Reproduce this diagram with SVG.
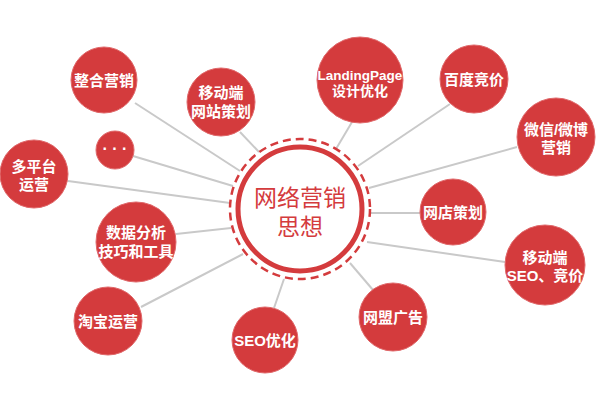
<svg xmlns="http://www.w3.org/2000/svg" width="600" height="400" viewBox="0 0 600 400">
<style>
.n{fill:#d43b3d;stroke:#e0686a;stroke-width:1}
.t{fill:#fff;font-family:"Liberation Sans","Noto Sans CJK SC",sans-serif;font-weight:bold;font-size:15px;text-anchor:middle}
.c line{stroke:#c9c9c9;stroke-width:2}
.ct{fill:#d43b3d;font-family:"Liberation Sans","Noto Sans CJK SC",sans-serif;font-size:23px;text-anchor:middle}
</style>
<rect width="600" height="400" fill="#fff"/>
<g class="c" id="connectors">
<line x1="135" y1="103" x2="240" y2="171"/>
<line x1="133" y1="156" x2="233" y2="186"/>
<line x1="68" y1="181" x2="230" y2="203"/>
<line x1="176" y1="234" x2="231" y2="228"/>
<line x1="141" y1="307" x2="243" y2="254"/>
<line x1="274" y1="308" x2="284" y2="279"/>
<line x1="373" y1="290" x2="350" y2="263"/>
<line x1="505" y1="262" x2="367" y2="242"/>
<line x1="420" y1="213" x2="371" y2="213"/>
<line x1="517" y1="147" x2="369" y2="188"/>
<line x1="450" y1="104" x2="358" y2="166"/>
<line x1="352" y1="122" x2="336" y2="149"/>
<line x1="240" y1="132" x2="259" y2="152"/>
</g>
<g id="center">
<circle cx="300" cy="209" r="70" fill="none" stroke="#d43b3d" stroke-width="2.5" stroke-dasharray="8 5"/>
<circle cx="300" cy="209" r="62" fill="#fff" stroke="#d43b3d" stroke-width="5"/>
<text class="ct" x="300" y="206">网络营销</text>
<text class="ct" x="300" y="235">思想</text>
</g>
<g id="n1"><circle class="n" cx="104" cy="80" r="33"/><text class="t" x="104" y="86">整合营销</text></g>
<g id="n2"><circle class="n" cx="115" cy="150" r="19"/><text class="t" x="115" y="154" style="font-size:16px">· · ·</text></g>
<g id="n3"><circle class="n" cx="34" cy="174" r="34"/><text class="t" x="34" y="172">多平台</text><text class="t" x="34" y="190">运营</text></g>
<g id="n4"><circle class="n" cx="221" cy="102" r="34"/><text class="t" x="221" y="98">移动端</text><text class="t" x="221" y="117">网站策划</text></g>
<g id="n5"><circle class="n" cx="360" cy="80" r="43"/><text class="t" x="360" y="80" style="font-size:13.5px">LandingPage</text><text class="t" x="360" y="96" style="font-size:14px">设计优化</text></g>
<g id="n6"><circle class="n" cx="474" cy="79" r="34"/><text class="t" x="474" y="85">百度竞价</text></g>
<g id="n7"><circle class="n" cx="556" cy="137" r="39"/><text class="t" x="556" y="135">微信/微博</text><text class="t" x="556" y="153">营销</text></g>
<g id="n8"><circle class="n" cx="453" cy="212" r="33"/><text class="t" x="453" y="218">网店策划</text></g>
<g id="n9"><circle class="n" cx="545" cy="265" r="40"/><text class="t" x="545" y="263">移动端</text><text class="t" x="545" y="281">SEO、竞价</text></g>
<g id="n10"><circle class="n" cx="393" cy="317" r="34"/><text class="t" x="393" y="323">网盟广告</text></g>
<g id="n11"><circle class="n" cx="265" cy="340" r="33"/><text class="t" x="265" y="346">SEO优化</text></g>
<g id="n12"><circle class="n" cx="108" cy="321" r="34"/><text class="t" x="108" y="327">淘宝运营</text></g>
<g id="n13"><circle class="n" cx="136" cy="242" r="40"/><text class="t" x="136" y="238">数据分析</text><text class="t" x="136" y="257">技巧和工具</text></g>
</svg>
